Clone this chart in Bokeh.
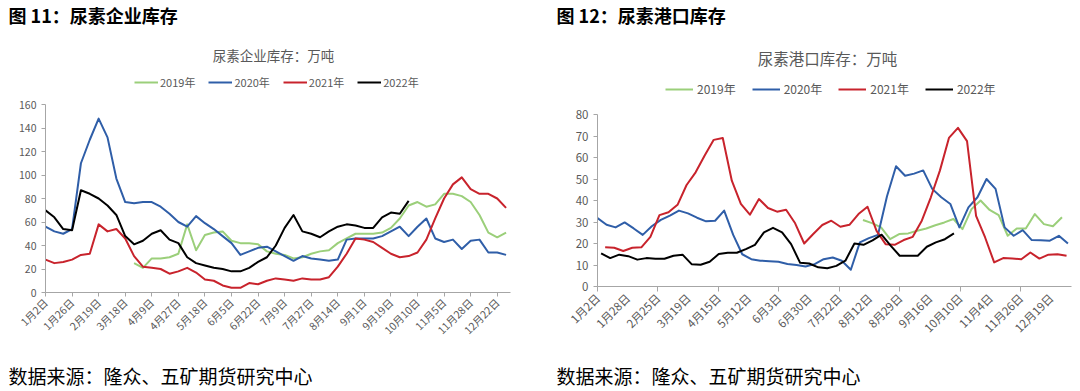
import math
import numpy as np
from bokeh.plotting import figure
from bokeh.models import Range1d, FixedTicker, Label, Legend, LegendItem
from bokeh.layouts import row, column
from bokeh.embed import file_html
from bokeh.resources import INLINE

FONT = "Noto Sans CJK SC"
SERIES_NAMES = ["2019年", "2020年", "2021年", "2022年"]
SERIES_COLORS = ["#9BCF7A", "#2F5EA8", "#C8232C", "#000000"]
SOURCE_TEXT = "数据来源：隆众、五矿期货研究中心"

# ---------------- left chart: 尿素企业库存 ----------------
LEFT_TITLE = "图 11：尿素企业库存"
LEFT_SUBTITLE = "尿素企业库存：万吨"
LEFT_X_LABELS = ["1月2日", "1月26日", "2月19日", "3月18日", "4月9日", "4月27日",
                 "5月18日", "6月5日", "6月22日", "7月9日", "7月27日", "8月14日",
                 "9月1日", "9月19日", "10月10日", "11月5日", "11月28日", "12月22日"]
LEFT_Y_TICKS = [0, 20, 40, 60, 80, 100, 120, 140, 160]
LEFT_2019 = [25, 21, 29, 29, 30, 33, 58, 36, 49, 51, 52, 44, 42, 42, 41, 35, 33, 32, 29,
             30, 33, 35, 36, 42, 46, 50, 50, 50, 51, 55, 63, 74, 77, 73, 75, 84, 84, 82,
             77, 66, 51, 47, 51]
LEFT_2020 = [56, 52, 50, 54, 110, 130, 148, 132, 97, 77, 76, 77, 77, 73, 67, 60, 56, 65,
             59, 54, 48, 42, 32, 35, 38, 39, 35, 31, 27, 31, 29, 28, 27, 28, 45, 46, 46,
             46, 48, 52, 56, 48, 56, 63, 46, 43, 45, 37, 44, 45, 34, 34, 32]
LEFT_2021 = [28, 25, 26, 28, 32, 33, 58, 52, 54, 46, 31, 22, 21, 20, 16, 18, 21, 17, 11,
             10, 6, 4, 4, 8, 7, 10, 12, 11, 10, 12, 11, 11, 13, 22, 33, 46, 45, 43, 38,
             33, 30, 31, 34, 45, 63, 80, 92, 98, 88, 84, 84, 80, 72]
LEFT_2022 = [70, 64, 54, 53, 87, 84, 80, 74, 66, 48, 41, 44, 50, 53, 45, 42, 30, 25, 23,
             21, 20, 18, 18, 21, 26, 30, 40, 55, 66, 52, 50, 47, 52, 56, 58, 57, 55, 55,
             64, 68, 67, 78]
LEFT_START = [10, 0, 0, 0]      # category index of each series' first week

# ---------------- right chart: 尿素港口库存 ----------------
RIGHT_TITLE = "图 12：尿素港口库存"
RIGHT_SUBTITLE = "尿素港口库存：万吨"
RIGHT_X_LABELS = ["1月2日", "1月28日", "2月25日", "3月19日", "4月15日", "5月12日",
                  "6月3日", "6月30日", "7月22日", "8月12日", "8月29日", "9月16日",
                  "10月10日", "11月4日", "11月26日", "12月19日"]
RIGHT_Y_TICKS = [0, 10, 20, 30, 40, 50, 60, 70, 80]
RIGHT_2019 = [30.9, 29.5, 27.5, 22, 24.4, 24.7, 25.9, 27, 28.5, 29.8, 31.4, 26.7, 36, 40,
              35.6, 33.2, 23.6, 27, 27, 33.7, 29, 28, 32.2]
RIGHT_2020 = [31.8, 28.7, 27.5, 29.8, 27, 24, 28, 31, 33, 35.3, 34, 32, 30.3, 30.6, 35.3,
              24, 15, 12.7, 12, 11.8, 11.5, 10.5, 10, 9.3, 10.4, 12.7, 13.5, 12, 7.8, 20.5,
              22.5, 24, 42, 55.9, 51.5, 52.5, 54, 45.4, 41.5, 38.4, 27.5, 36.8, 41.5, 50,
              45.4, 27.5, 23.6, 26.2, 21.6, 21.5, 21.3, 23.6, 20]
RIGHT_2021 = [18.2, 18, 16.5, 18, 18.2, 23.1, 33.2, 34.5, 38, 47.2, 53.1, 60.9, 68.2, 69.1,
              49.2, 38.4, 33.4, 40.7, 36.5, 34.8, 35.7, 29.4, 20, 24.4, 28.6, 30.6, 27.8,
              28.7, 33.7, 37.1, 25.9, 19.7, 19.4, 21.6, 23.1, 30.6, 41.5, 53.9, 69.1, 73.8,
              67.6, 32.9, 22.8, 11.2, 13.2, 13, 12.7, 15.8, 13, 14.8, 15, 14.3]
RIGHT_2022 = [15.4, 13.2, 14.8, 14.1, 12.5, 13.2, 12.9, 12.9, 14.3, 14.8, 10.4, 10.1, 11.5,
              15.1, 15.7, 15.7, 17.4, 19.4, 25.2, 27.3, 25.2, 19.7, 11, 10.7, 8.9, 8.5, 9.6,
              12, 20, 19.4, 21.5, 24.1, 19, 14.3, 14.3, 14.3, 18.5, 20.5, 22, 24.7]
RIGHT_START = [26.35, 0.0, 0.76, 0.36]   # category position of each series' first week
RIGHT_WEEK = 0.898                       # categories per week on this axis

AXIS_GREY = "#A6A6A6"
TEXT_GREY = "#595959"
PANEL_W = 540


def blank(h):
    f = figure(width=PANEL_W, height=h, x_range=Range1d(0, PANEL_W), y_range=Range1d(0, h),
               x_axis_type=None, y_axis_type=None, min_border=0, output_backend="svg",
               toolbar_location=None, outline_line_color=None, frame_align=False)
    return f


def make_panel(cfg):
    # ---- header: title, subtitle, legend
    hdr = blank(cfg["hdr_h"])
    hdr.add_layout(Label(x=cfg["title_xy"][0], y=cfg["title_xy"][1], text=cfg["title"],
                         text_font=FONT, text_font_style="bold", text_font_size="18px",
                         text_color="black", text_baseline="middle", text_align="left"))
    hdr.add_layout(Label(x=cfg["sub_xy"][0], y=cfg["sub_xy"][1], text=cfg["subtitle"],
                         text_font=FONT, text_font_size=cfg["sub_fs"], text_color=TEXT_GREY,
                         text_baseline="middle", text_align="center"))
    # legend keys (no data of their own; they only carry the series styles)
    proxies = [hdr.line(x=[np.nan, np.nan], y=[np.nan, np.nan], line_color=c,
                        line_width=cfg["lw"]) for c in SERIES_COLORS]
    items = [LegendItem(label=nm, renderers=[r]) for nm, r in zip(SERIES_NAMES, proxies)]
    hdr.add_layout(Legend(items=items, orientation="horizontal", location=cfg["leg_xy"],
                          padding=0, margin=0, spacing=cfg["leg_spacing"],
                          glyph_width=cfg["glyph_w"], glyph_height=14,
                          label_standoff=cfg["standoff"], label_height=14,
                          label_text_font=FONT, label_text_font_size=cfg["leg_fs"],
                          label_text_color=TEXT_GREY, border_line_alpha=0,
                          background_fill_alpha=0, label_text_baseline="middle"))

    # ---- chart
    p = figure(width=PANEL_W, height=cfg["chart_h"], output_backend="svg",
               toolbar_location=None, frame_align=False,
               x_range=Range1d(0, cfg["x_end"]), y_range=Range1d(0, cfg["y_ticks"][-1]),
               min_border_left=cfg["b_left"], min_border_right=cfg["b_right"],
               min_border_top=8, min_border_bottom=cfg["b_bottom"],
               outline_line_color=None)
    p.xgrid.visible = False
    p.ygrid.visible = False
    for vals, start, color in zip(cfg["series"], cfg["starts"], SERIES_COLORS):
        y = np.array(vals, dtype=float)
        x = start + np.arange(len(y)) * cfg["step"]
        p.line(x, y, line_color=color, line_width=cfg["lw"], line_join="round")

    yax = p.yaxis[0]
    yax.ticker = FixedTicker(ticks=cfg["y_ticks"])
    yax.axis_line_color = AXIS_GREY
    yax.major_tick_line_color = AXIS_GREY
    yax.major_tick_out = 4
    yax.major_tick_in = 0
    yax.minor_tick_line_color = None
    yax.major_label_text_color = TEXT_GREY
    yax.major_label_text_font = FONT
    yax.major_label_text_font_size = cfg["tick_fs"]
    yax.major_label_standoff = 5

    xax = p.xaxis[0]
    lab_pos = [i * 3 for i in range(len(cfg["x_labels"]))]
    xax.ticker = FixedTicker(ticks=lab_pos, minor_ticks=cfg["marks"])
    xax.major_label_overrides = {pos: lab for pos, lab in zip(lab_pos, cfg["x_labels"])}
    xax.major_label_orientation = math.pi / 4
    xax.axis_line_color = AXIS_GREY
    xax.major_tick_line_color = AXIS_GREY
    xax.major_tick_out = cfg["major_out"]
    xax.major_tick_in = 0
    xax.minor_tick_line_color = AXIS_GREY
    xax.minor_tick_out = cfg["minor_out"]
    xax.minor_tick_in = 0
    xax.major_label_text_color = TEXT_GREY
    xax.major_label_text_font = FONT
    xax.major_label_text_font_size = cfg["tick_fs"]
    xax.major_label_standoff = 4

    # ---- footer: source
    ftr = blank(cfg["ftr_h"])
    ftr.add_layout(Label(x=cfg["src_xy"][0], y=cfg["src_xy"][1], text=SOURCE_TEXT,
                         text_font=FONT, text_font_size="19px", text_color="black",
                         text_baseline="middle", text_align="left"))
    return column(hdr, p, ftr, spacing=0)


left_cfg = dict(
    series=[LEFT_2019, LEFT_2020, LEFT_2021, LEFT_2022], starts=LEFT_START, step=1.0,
    x_end=52.5, y_ticks=LEFT_Y_TICKS, x_labels=LEFT_X_LABELS,
    marks=[], major_out=4, minor_out=0,
    hdr_h=96, chart_h=249, ftr_h=46,
    b_left=45, b_right=30, b_bottom=50, lw=2,
    tick_fs="10.5px", title=LEFT_TITLE, subtitle=LEFT_SUBTITLE, sub_fs="13.5px",
    title_xy=(8, 82), sub_xy=(273, 42), src_xy=(8, 16),
    leg_xy=(134, 6), leg_spacing=13, glyph_w=24, standoff=2, leg_fs="11px",
)

right_cfg = dict(
    series=[RIGHT_2019, RIGHT_2020, RIGHT_2021, RIGHT_2022], starts=RIGHT_START,
    step=RIGHT_WEEK, x_end=47.05, y_ticks=RIGHT_Y_TICKS, x_labels=RIGHT_X_LABELS,
    marks=[i * 6 for i in range(8)], major_out=0, minor_out=5,
    hdr_h=106, chart_h=239, ftr_h=46,
    b_left=57, b_right=9, b_bottom=59, lw=2,
    tick_fs="11.5px", title=RIGHT_TITLE, subtitle=RIGHT_SUBTITLE, sub_fs="15.5px",
    title_xy=(16, 92), sub_xy=(287, 49), src_xy=(16, 16),
    leg_xy=(125, 9), leg_spacing=16, glyph_w=28, standoff=4, leg_fs="12px",
)

p = row(make_panel(left_cfg), make_panel(right_cfg), spacing=0)

open("out.html", "w").write(file_html(p, INLINE))
